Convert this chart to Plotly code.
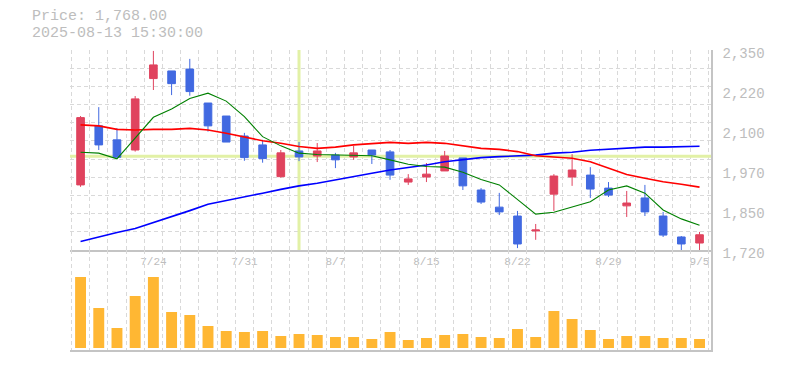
import plotly.graph_objects as go

# ---------------- data ----------------
dates = ["2025-07-17", "2025-07-18", "2025-07-22", "2025-07-23", "2025-07-24", "2025-07-25",
         "2025-07-28", "2025-07-29", "2025-07-30", "2025-07-31", "2025-08-01", "2025-08-04",
         "2025-08-05", "2025-08-06", "2025-08-07", "2025-08-08", "2025-08-12", "2025-08-13",
         "2025-08-14", "2025-08-15", "2025-08-18", "2025-08-19", "2025-08-20", "2025-08-21",
         "2025-08-22", "2025-08-25", "2025-08-26", "2025-08-27", "2025-08-28", "2025-08-29",
         "2025-09-01", "2025-09-02", "2025-09-03", "2025-09-04", "2025-09-05"]
opens = [1925, 2111, 2067, 2035, 2260, 2284, 2290, 2183, 2142, 2079, 2051, 1951, 2032, 2016, 2019,
         2013, 2035, 2029, 1934, 1950, 1969, 2010, 1909, 1855, 1827, 1780, 1896, 1950, 1956, 1915,
         1859, 1884, 1827, 1761, 1742]
highs = [2142, 2170, 2104, 2205, 2347, 2284, 2322, 2183, 2142, 2089, 2067, 2035, 2060, 2057, 2026,
         2048, 2035, 2035, 1959, 1994, 2032, 2010, 1915, 1900, 1843, 1802, 1959, 2022, 1981, 1934,
         1906, 1925, 1840, 1764, 1777]
lows = [1919, 2035, 2012, 2030, 2224, 2208, 2206, 2093, 2060, 2001, 1995, 1948, 2000, 1997, 1978,
        2004, 1991, 1941, 1925, 1934, 1969, 1909, 1865, 1830, 1726, 1752, 1843, 1922, 1884, 1887,
        1824, 1827, 1761, 1720, 1720]
closes = [2137, 2051, 2012, 2196, 2303, 2244, 2219, 2111, 2060, 2011, 2008, 2026, 2013, 2032, 2004,
          2026, 2019, 1956, 1944, 1959, 2016, 1922, 1871, 1840, 1739, 1783, 1953, 1972, 1912, 1893,
          1868, 1840, 1767, 1739, 1768]
ma_short = [2028, 2025, 2007, 2071, 2138, 2164, 2197, 2214, 2189, 2140, 2077, 2048, 2025, 2021, 2019,
            2018, 2017, 2004, 1990, 1983, 1981, 1965, 1942, 1925, 1878, 1833, 1839, 1856, 1872, 1909,
            1922, 1899, 1846, 1818, 1798]
ma_mid = [2114, 2111, 2100, 2098, 2100, 2100, 2103, 2098, 2088, 2075, 2064, 2056, 2046, 2040, 2044,
          2051, 2056, 2059, 2056, 2059, 2056, 2048, 2040, 2037, 2030, 2017, 2012, 2009, 1998, 1979,
          1958, 1946, 1935, 1927, 1918]
ma_long = [1747, 1762, 1775, 1788, 1806, 1825, 1844, 1864, 1875, 1888, 1899, 1911, 1922, 1930, 1941,
           1953, 1962, 1972, 1979, 1988, 1998, 2004, 2011, 2014, 2016, 2019, 2025, 2028, 2034, 2037,
           2040, 2044, 2044, 2046, 2047]
volumes = [71000, 40000, 20000, 52000, 71000, 36000, 33000, 22000, 17000, 16000, 17000, 12000,
           14000, 13000, 11000, 11000, 9000, 16000, 8000, 10000, 13000, 14000, 11000, 10000,
           19000, 11000, 37000, 29000, 18000, 9000, 12000, 12000, 10000, 10000, 9000]
tick_dates = ["2025-07-24", "2025-07-31", "2025-08-07", "2025-08-15", "2025-08-22", "2025-08-29", "2025-09-05"]
tick_labels = ["7/24", "7/31", "8/7", "8/15", "8/22", "8/29", "9/5"]
price_tick_labels = ["1,720", "1,850", "1,970", "2,100", "2,220", "2,350"]
header_time = "2025-08-13 15:30:00"
cross_date = "2025-08-05"
cross_price = 2015

PRICE_MIN, PRICE_MAX = 1720, 2350
VOL_MIN, VOL_MAX = -2000, 98000

# ---------------- styling ----------------
RED = "#E0435E"
BLUE = "#4169E1"
ORANGE = "#FFB733"
GRID = "#d9d9d9"
AXIS = "#c4c4c4"
TXT = "#bdbdbd"
CROSS = "#e2f1a6"
FONT = "Liberation Mono"

n = len(dates)
x = list(range(n))
tickvals = [dates.index(d) for d in tick_dates]
xrange_ = [-0.58, n - 1 + 0.63]
xgrid = [i - 0.5 for i in range(n + 1)]
ygrid = [PRICE_MIN + k * (PRICE_MAX - PRICE_MIN) / 11 for k in range(12)]
ytickpos = [PRICE_MIN + k * (PRICE_MAX - PRICE_MIN) / 5 for k in range(6)]

fig = go.Figure()

fig.add_trace(go.Scatter(x=x, y=ma_long, mode="lines", line=dict(color="#0000ff", width=1.6),
                         xaxis="x", yaxis="y", hoverinfo="skip"))
fig.add_trace(go.Scatter(x=x, y=ma_mid, mode="lines", line=dict(color="#ff0000", width=1.6),
                         xaxis="x", yaxis="y", hoverinfo="skip"))
fig.add_trace(go.Scatter(x=x, y=ma_short, mode="lines", line=dict(color="#008000", width=1.1),
                         xaxis="x", yaxis="y", hoverinfo="skip"))
fig.add_trace(go.Candlestick(
    x=x, open=opens, high=highs, low=lows, close=closes,
    increasing=dict(line=dict(color=RED, width=1), fillcolor=RED),
    decreasing=dict(line=dict(color=BLUE, width=1), fillcolor=BLUE),
    whiskerwidth=0, xaxis="x", yaxis="y"))
fig.add_trace(go.Bar(x=x, y=volumes, marker=dict(color=ORANGE, line=dict(width=0)),
                     xaxis="x2", yaxis="y2"))

ci = dates.index(cross_date)
fig.add_shape(type="line", xref="x", yref="y", x0=ci, x1=ci, y0=PRICE_MIN, y1=PRICE_MAX,
              line=dict(color=CROSS, width=3), layer="between")
fig.add_shape(type="line", xref="x", yref="y", x0=xrange_[0], x1=xrange_[1],
              y0=cross_price, y1=cross_price,
              line=dict(color=CROSS, width=3), layer="between")

# page body adds an 8px offset; the figure is sized to fit the 785x370 window
OFF = 8
W, H = 785 - OFF, 370 - OFF
ML, MR, MT, MB = 70 - OFF, 74, 50 - OFF, 20
pw, ph = W - ML - MR, H - MT - MB

minor_x = dict(tickmode="array", tickvals=xgrid, showgrid=True, gridcolor=GRID,
               griddash="4px,3px", gridwidth=1, ticks="")

fig.update_layout(
    width=W, height=H, margin=dict(l=ML, r=MR, t=MT, b=MB, autoexpand=False),
    paper_bgcolor="white", plot_bgcolor="white", showlegend=False,
    boxgap=0.4, bargap=0.4,
    font=dict(family=FONT, color=TXT),
    xaxis=dict(domain=[0, 1], anchor="y", range=xrange_, showgrid=False, zeroline=False,
               automargin=False,
               tickmode="array", tickvals=tickvals, ticktext=tick_labels, ticks="",
               tickfont=dict(size=11, color=TXT, family=FONT),
               showline=True, linecolor=AXIS, linewidth=1.5,
               rangeslider=dict(visible=False), minor=minor_x),
    yaxis=dict(domain=[100 / ph, 1], anchor="x", side="right", range=[PRICE_MIN, PRICE_MAX],
               showgrid=False, zeroline=False, automargin=False,
               tickmode="array", tickvals=ytickpos,
               ticktext=price_tick_labels, ticks="", ticklabelshift=3, ticklabelstandoff=7,
               tickfont=dict(size=14, color=TXT, family=FONT),
               showline=True, linecolor=AXIS, linewidth=1.5,
               minor=dict(tickmode="array", tickvals=ygrid, showgrid=True, gridcolor=GRID,
                          griddash="4px,3px", gridwidth=1, ticks="")),
    xaxis2=dict(domain=[0, 1], anchor="y2", range=xrange_, showgrid=False, zeroline=False,
                automargin=False,
                showticklabels=False, ticks="", showline=True, linecolor=AXIS, linewidth=1.5,
                minor=minor_x),
    yaxis2=dict(domain=[0, 100 / ph], anchor="x2", side="right", range=[VOL_MIN, VOL_MAX],
                showgrid=False, zeroline=False, showticklabels=False, ticks="", automargin=False,
                showline=True, linecolor=AXIS, linewidth=1.5),
)

fig.add_annotation(xref="paper", yref="paper", x=(30 - OFF - ML) / pw, y=1 + (MT - (17 - OFF)) / ph,
                   xanchor="left", yanchor="middle", showarrow=False,
                   text=f"Price: {closes[-1]:,.2f}", font=dict(size=15, color=TXT, family=FONT))
fig.add_annotation(xref="paper", yref="paper", x=(30 - OFF - ML) / pw, y=1 + (MT - (33 - OFF)) / ph,
                   xanchor="left", yanchor="middle", showarrow=False,
                   text=header_time, font=dict(size=15, color=TXT, family=FONT))

fig.write_html("out.html")
